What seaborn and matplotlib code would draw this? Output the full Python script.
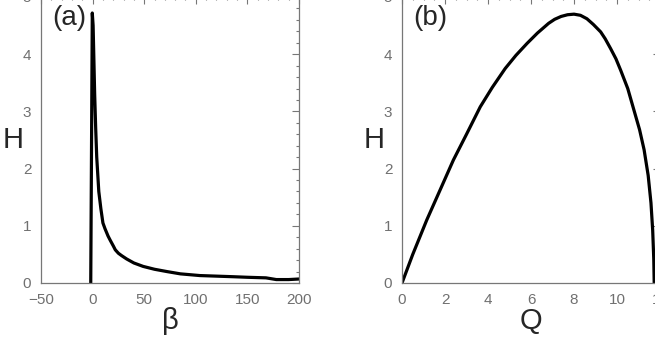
import numpy as np
import pandas as pd
import seaborn as sns
import matplotlib
matplotlib.use("Agg")
import matplotlib.pyplot as plt
from matplotlib.ticker import MultipleLocator

# dados: painel (a) H x beta, painel (b) H x Q
beta = [-1.8, -0.3, 0.5, 1.0, 1.5, 2.0, 2.5, 3.0, 4, 5, 6, 7, 8, 10, 12, 15,
        17, 20, 22, 25, 28, 33, 40, 49, 60, 72, 85, 104, 120, 136, 150, 168,
        178, 190, 200]
H_beta = [0.0, 4.72, 4.5, 4.1, 3.7, 3.3, 3.0, 2.7, 2.2, 1.9, 1.6, 1.45, 1.3,
          1.05, 0.95, 0.82, 0.75, 0.65, 0.58, 0.52, 0.48, 0.42, 0.35, 0.29,
          0.24, 0.20, 0.16, 0.13, 0.12, 0.11, 0.10, 0.09, 0.06, 0.06, 0.07]

Q = [0, 0.5, 1.15, 1.8, 2.39, 3.0, 3.64, 4.2, 4.8, 5.3, 5.82, 6.3, 6.82, 7.1,
     7.4, 7.7, 8.0, 8.3, 8.6, 8.9, 9.24, 9.45, 9.7, 9.95, 10.17, 10.5, 10.79,
     11.05, 11.26, 11.45, 11.58, 11.66, 11.71, 11.73]
H_Q = [0.0, 0.5, 1.10, 1.65, 2.15, 2.60, 3.08, 3.42, 3.75, 3.98, 4.19, 4.37,
       4.54, 4.61, 4.66, 4.69, 4.70, 4.68, 4.62, 4.52, 4.39, 4.27, 4.10, 3.92,
       3.72, 3.40, 3.02, 2.68, 2.33, 1.88, 1.40, 0.92, 0.42, 0.0]

df_a = pd.DataFrame({'beta': beta, 'H': H_beta})
df_b = pd.DataFrame({'Q': Q, 'H': H_Q})

sns.set_theme(style='white')
plt.rcParams['font.family'] = ['Liberation Sans', 'DejaVu Sans']

cinza = '#777777'
fig = plt.figure(figsize=(6.55, 3.4), dpi=100)
# eixos um pouco acima/à direita da figura (a figura original está cortada)
ax_a = fig.add_axes([41/655, 57/340, 258/655, 286/340])
ax_b = fig.add_axes([402/655, 57/340, 258/655, 286/340])

sns.lineplot(data=df_a, x='beta', y='H', ax=ax_a, color='black', lw=2.3,
             sort=False, estimator=None)
sns.lineplot(data=df_b, x='Q', y='H', ax=ax_b, color='black', lw=2.3,
             sort=False, estimator=None)

def estilo(ax, xlim, xmaj, xmin, xlabel, letra):
    ax.set_xlim(*xlim)
    ax.set_ylim(0, 5)
    ax.xaxis.set_major_locator(MultipleLocator(xmaj))
    ax.xaxis.set_minor_locator(MultipleLocator(xmin))
    ax.yaxis.set_major_locator(MultipleLocator(1))
    ax.yaxis.set_minor_locator(MultipleLocator(0.2))
    for s in ax.spines.values():
        s.set_color(cinza)
        s.set_linewidth(0.9)
    ax.tick_params(which='both', direction='in', top=True, right=True,
                   color=cinza, width=0.8, labelcolor='#707070',
                   labelsize=11)
    ax.tick_params(which='major', length=5, pad=7)
    ax.tick_params(which='minor', length=2.5)
    ax.set_xlabel(xlabel, fontsize=21, labelpad=0)
    ax.set_ylabel('H', fontsize=21, rotation=0, labelpad=7, va='center')
    ax.text(0.043, 0.972, letra, transform=ax.transAxes, fontsize=20,
            va='top', ha='left')

estilo(ax_a, (-50, 200), 50, 10, 'β', '(a)')
estilo(ax_b, (0, 12), 2, 0.5, 'Q', '(b)')

fig.savefig('out.png', dpi=100)
